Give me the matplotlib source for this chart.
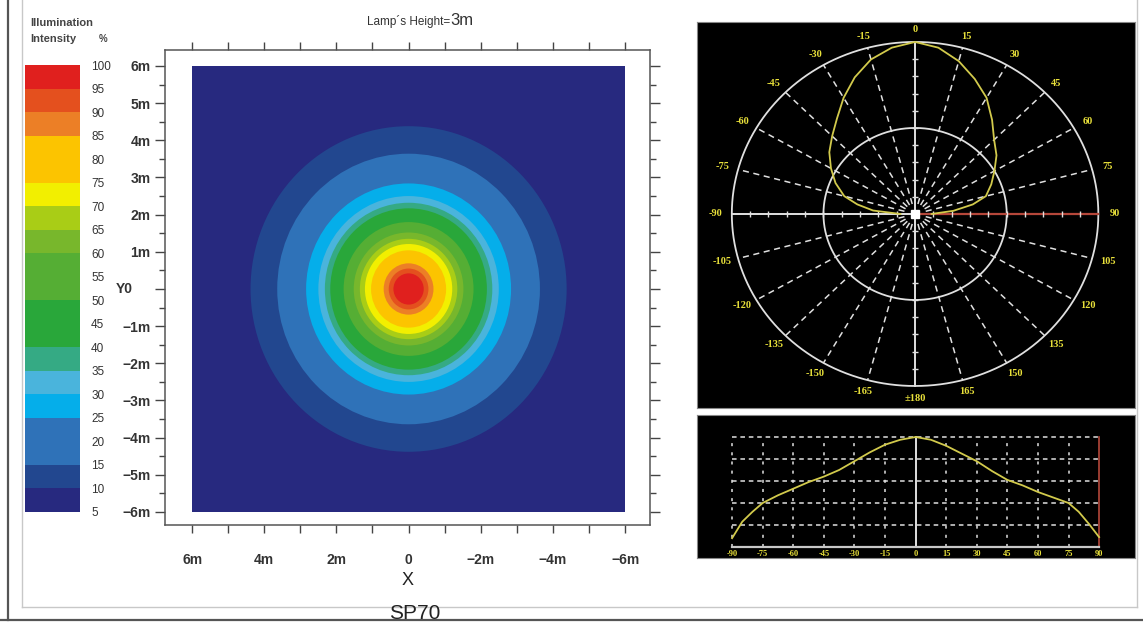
import numpy as np
import matplotlib
matplotlib.use("Agg")
import matplotlib.pyplot as plt
from matplotlib.colors import ListedColormap, BoundaryNorm
from matplotlib.patches import Circle, Rectangle
from matplotlib.lines import Line2D
import matplotlib.transforms as mtransforms
import matplotlib.colorbar as mcolorbar

# illumination levels (%) and colours of each band
levels = [5, 10, 15, 25, 30, 35, 40, 50, 60, 65, 70, 75, 85, 90, 95, 100]
band_colors = ['#27297f', '#22478f', '#2f72b8', '#05aeea', '#4ab4dc', '#35aa84',
               '#29a73a', '#55ae34', '#78b72c', '#a9cd16', '#f2ef00', '#fcc400',
               '#ec7f26', '#e4501e', '#e0201e']
cbar_ticks = list(range(5, 105, 5))

# radius (m) at which the intensity drops below each level, 10% .. 95%
ring_levels = [10, 15, 25, 30, 35, 40, 50, 60, 65, 70, 75, 85, 90, 95]
ring_radius = [4.38, 3.64, 2.84, 2.50, 2.32, 2.17, 1.80, 1.52, 1.35, 1.21, 1.04, 0.69, 0.55, 0.42]

x_ticks = [6, 4, 2, 0, -2, -4, -6]
x_ticklabels = ['6m', '4m', '2m', '0', '\u22122m', '\u22124m', '\u22126m']
y_ticks = [6, 5, 4, 3, 2, 1, 0, -1, -2, -3, -4, -5, -6]
y_ticklabels = ['6m', '5m', '4m', '3m', '2m', '1m', '', '\u22121m', '\u22122m',
                '\u22123m', '\u22124m', '\u22125m', '\u22126m']

# relative luminous intensity vs angle (deg)
angles = [-90, -85, -80, -75, -67.5, -60, -52.5, -45, -37.5, -30, -22.5, -15, -7.5, 0,
          7.5, 15, 22.5, 30, 37.5, 45, 52.5, 60, 67.5, 75, 80, 85, 90]
intensity = [0.08, 0.23, 0.32, 0.40, 0.47, 0.53, 0.59, 0.64, 0.70, 0.78, 0.86, 0.93, 0.975, 1.0,
             0.975, 0.92, 0.85, 0.78, 0.69, 0.61, 0.56, 0.50, 0.45, 0.40, 0.32, 0.21, 0.09]

polar_labels = ['0', '15', '30', '45', '60', '75', '90', '105', '120', '135', '150', '165',
                '\u00b1180', '-165', '-150', '-135', '-120', '-105', '-90', '-75', '-60',
                '-45', '-30', '-15']
profile_ticks = list(range(-90, 91, 15))

W, H = 1143, 622
fig = plt.figure(figsize=(W / 100, H / 100), dpi=100)
fig.patch.set_facecolor('white')
plt.rcParams['font.family'] = ['Liberation Sans', 'DejaVu Sans']


def fbox(x0, y0, x1, y1):
    return [x0 / W, 1 - y1 / H, (x1 - x0) / W, (y1 - y0) / H]


# page frame
frame = [
    ([8, 8], [0, 620], '#555555', 1.6),
    ([0, W], [620, 620], '#555555', 1.6),
    ([22, 22], [0, 607], '#c8c8c8', 1.0),
    ([22, 1137], [607, 607], '#c8c8c8', 1.0),
    ([1137, 1137], [0, 607], '#c8c8c8', 1.0),
]
for xs, ys, c, lw in frame:
    fig.add_artist(Line2D([x / W for x in xs], [1 - y / H for y in ys],
                          color=c, lw=lw, zorder=1))

# ---------- contour map ----------
ax = fig.add_axes(fbox(165, 50, 650, 525))
ax.set_xlim(6.75, -6.69)
ax.set_ylim(-6.35, 6.43)
ax.add_patch(Rectangle((-6, -6), 12, 12, color=band_colors[0], lw=0))
for lev, r in zip(ring_levels, ring_radius):
    ax.add_patch(Circle((0, 0), r, color=band_colors[levels.index(lev)], lw=0))

ax.set_xticks(x_ticks)
ax.set_xticklabels(x_ticklabels)
ax.set_xticks(range(-5, 6, 2), minor=True)
ax.set_yticks(y_ticks)
ax.set_yticklabels(y_ticklabels)
ax.set_yticks(np.arange(-5.5, 6, 1.0), minor=True)
ax.tick_params(which='both', direction='out', top=True, right=True,
               labeltop=False, labelright=False, colors='#444444',
               labelcolor='#333333', labelsize=10)
ax.tick_params(which='major', length=7, width=1)
ax.tick_params(which='minor', length=4, width=1)
ax.tick_params(axis='x', which='both', length=6, pad=14)
for lab in ax.get_xticklabels() + ax.get_yticklabels():
    lab.set_fontweight('bold')
for s in ax.spines.values():
    s.set_color('#555555')
    s.set_linewidth(1.1)
trans = mtransforms.blended_transform_factory(ax.transAxes, ax.transData)
ax.text(-0.066, 0, 'Y0', transform=trans, ha='right', va='center',
        fontsize=10, fontweight='bold', color='#333333')
ax.set_xlabel('X', fontsize=13, color='#222222', labelpad=4)

fig.text(450 / W, 1 - 25 / H, "Lamp\u00b4s Height=", ha='right', va='baseline',
         fontsize=8.5, color='#333333')
fig.text(450 / W, 1 - 25 / H, "3m", ha='left', va='baseline', fontsize=12, color='#333333')
fig.text(415 / W, 1 - 619 / H, 'SP70', ha='center', va='baseline', fontsize=15,
         color='#222222', zorder=5)

# ---------- colour bar ----------
cax = fig.add_axes(fbox(25, 65, 80, 512))
cb = mcolorbar.ColorbarBase(cax, cmap=ListedColormap(band_colors),
                            norm=BoundaryNorm(levels, len(band_colors)),
                            boundaries=levels, spacing='proportional',
                            ticks=cbar_ticks)
cb.outline.set_visible(False)
cax.tick_params(length=0, labelsize=8.5, labelcolor='#333333', pad=8)
fig.text(30 / W, 1 - 26 / H, 'Illumination', fontsize=8, fontweight='bold', color='#444444')
fig.text(30 / W, 1 - 42 / H, 'Intensity', fontsize=8, fontweight='bold', color='#444444')
fig.text(99 / W, 1 - 42 / H, '%', fontsize=7, fontweight='bold', color='#444444')

# ---------- polar diagram ----------
line_c = '#d2ca4c'
lab_c = '#e8e03a'
grid_c = '#e0e0e0'
pax = fig.add_axes(fbox(697, 22, 1135, 408))
pax.set_facecolor('black')
pax.set_xlim(-1.19, 1.20)
pax.set_ylim(-1.128, 1.116)
pax.set_xticks([])
pax.set_yticks([])
for s in pax.spines.values():
    s.set_color('#888888')
t = np.linspace(0, 2 * np.pi, 361)
for r in (0.5, 1.0):
    pax.plot(r * np.sin(t), r * np.cos(t), color=grid_c, lw=1.3)
for k in range(24):
    a = np.radians(k * 15)
    if k % 6 == 0:
        continue
    pax.plot([0.06 * np.sin(a), np.sin(a)], [0.06 * np.cos(a), np.cos(a)],
             color=grid_c, lw=1.1, ls=(0, (4, 3)))
pax.plot([0, 0], [-1, 1], color=grid_c, lw=1.4)
pax.plot([-1, 0], [0, 0], color=grid_c, lw=1.4)
pax.plot([0, 1], [0, 0], color='#b5473a', lw=1.6)
marks = np.arange(0.1, 1.0, 0.1)
pax.plot(np.concatenate([-marks, marks]), np.zeros(2 * len(marks)), ls='none',
         marker='|', ms=4, color=grid_c)
pax.plot(np.zeros(2 * len(marks)), np.concatenate([-marks, marks]), ls='none',
         marker='_', ms=4, color=grid_c)
pax.plot([0], [0], marker='s', ms=6, color='white')
th = np.radians(angles)
pax.plot(np.array(intensity) * np.sin(th), np.array(intensity) * np.cos(th),
         color=line_c, lw=1.3)
for k, lab in enumerate(polar_labels):
    a = np.radians(k * 15)
    pax.text(1.09 * np.sin(a), 1.07 * np.cos(a), lab, ha='center', va='center',
             fontsize=7.5, fontweight='bold', color=lab_c, family='Liberation Serif')

# ---------- angular profile ----------
bax = fig.add_axes(fbox(697, 415, 1135, 558))
bax.set_facecolor('black')
bax.set_xlim(-107.2, 107.6)
bax.set_ylim(-0.1, 1.2)
bax.set_xticks([])
bax.set_yticks([])
for s in bax.spines.values():
    s.set_color('#888888')
for yv in (0.2, 0.4, 0.6, 0.8, 1.0):
    bax.plot([-90, 90], [yv, yv], color=grid_c, lw=1.1, ls=(0, (3, 2.5)))
for xv in profile_ticks:
    if xv in (0, 90):
        continue
    bax.plot([xv, xv], [0, 1.0], color=grid_c, lw=1.1, ls=(0, (2, 4)))
bax.plot([0, 0], [0, 1.0], color=grid_c, lw=1.4)
bax.plot([90, 90], [0, 1.0], color='#b5473a', lw=1.2)
bax.plot([-90, 90], [0, 0], color='#c8c8c8', lw=1.6)
bax.plot(angles, intensity, color=line_c, lw=1.3)
for xv in profile_ticks:
    bax.text(xv, -0.06, str(xv), ha='center', va='center', fontsize=6,
             fontweight='bold', color=lab_c, family='Liberation Serif')

fig.savefig('out.png', dpi=100, facecolor='white')
